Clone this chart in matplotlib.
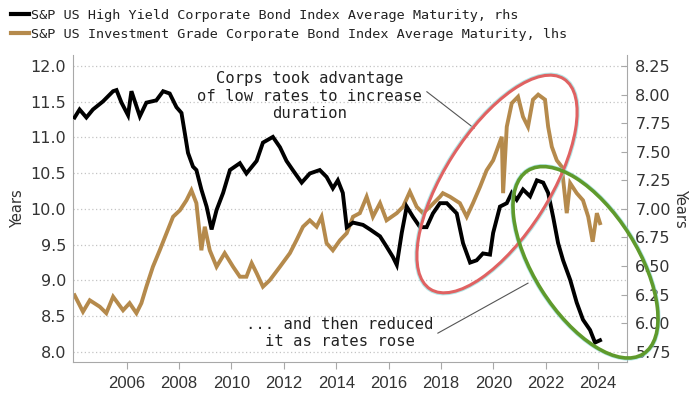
import matplotlib.pyplot as plt
from matplotlib.patches import Ellipse
from matplotlib.lines import Line2D

# S&P US High Yield index average maturity (rhs), decimal years
hy_years = [2004.01, 2004.20, 2004.46, 2004.71, 2005.09, 2005.48, 2005.61, 2005.80,
            2006.05, 2006.18, 2006.50, 2006.75, 2007.13, 2007.39, 2007.64, 2007.90,
            2008.09, 2008.22, 2008.34, 2008.53, 2008.66, 2008.85, 2009.05, 2009.24,
            2009.43, 2009.68, 2009.94, 2010.32, 2010.57, 2010.96, 2011.20, 2011.58,
            2011.85, 2012.10, 2012.34, 2012.68, 2012.99, 2013.37, 2013.63, 2013.87,
            2014.06, 2014.25, 2014.40, 2014.64, 2015.02, 2015.29, 2015.67, 2015.92,
            2016.16, 2016.31, 2016.50, 2016.69, 2016.93, 2017.20, 2017.45, 2017.69,
            2017.96, 2018.22, 2018.60, 2018.84, 2019.11, 2019.36, 2019.60, 2019.87,
            2019.99, 2020.25, 2020.51, 2020.70, 2020.89, 2021.13, 2021.40, 2021.66,
            2021.90, 2022.09, 2022.28, 2022.47, 2022.66, 2022.93, 2023.18, 2023.42,
            2023.69, 2023.88, 2024.07]
hy_values = [7.80, 7.87, 7.80, 7.87, 7.94, 8.03, 8.04, 7.93,
             7.82, 8.03, 7.81, 7.93, 7.95, 8.03, 8.01, 7.89,
             7.84, 7.66, 7.49, 7.37, 7.34, 7.17, 7.02, 6.82,
             6.99, 7.14, 7.34, 7.40, 7.31, 7.42, 7.58, 7.63,
             7.54, 7.42, 7.34, 7.23, 7.31, 7.34, 7.28, 7.18,
             7.25, 7.14, 6.84, 6.88, 6.86, 6.82, 6.76, 6.67,
             6.58, 6.51, 6.79, 7.02, 6.93, 6.84, 6.84, 6.96,
             7.05, 7.05, 6.96, 6.70, 6.53, 6.55, 6.61, 6.60,
             6.79, 7.02, 7.05, 7.14, 7.08, 7.17, 7.11, 7.25,
             7.23, 7.14, 6.93, 6.70, 6.55, 6.38, 6.18, 6.03,
             5.94, 5.83, 5.85]

# S&P US Investment Grade index average maturity (lhs)
ig_years = [2004.01, 2004.33, 2004.59, 2004.97, 2005.22, 2005.48, 2005.86, 2006.11,
            2006.37, 2006.56, 2006.75, 2007.00, 2007.26, 2007.52, 2007.77, 2008.03,
            2008.28, 2008.47, 2008.66, 2008.85, 2008.98, 2009.17, 2009.43, 2009.74,
            2010.06, 2010.32, 2010.57, 2010.77, 2010.96, 2011.20, 2011.46, 2011.85,
            2012.23, 2012.48, 2012.73, 2012.99, 2013.25, 2013.44, 2013.63, 2013.87,
            2014.14, 2014.40, 2014.64, 2014.90, 2015.16, 2015.40, 2015.67, 2015.92,
            2016.31, 2016.55, 2016.81, 2017.07, 2017.31, 2017.58, 2017.96, 2018.07,
            2018.34, 2018.72, 2018.98, 2019.22, 2019.49, 2019.74, 2019.99, 2020.18,
            2020.32, 2020.37, 2020.51, 2020.70, 2020.94, 2021.13, 2021.32, 2021.51,
            2021.71, 2021.97, 2022.09, 2022.23, 2022.42, 2022.61, 2022.80, 2022.93,
            2023.18, 2023.42, 2023.62, 2023.79, 2023.95, 2024.07]
ig_values = [8.79, 8.56, 8.72, 8.63, 8.54, 8.77, 8.58, 8.68,
             8.54, 8.68, 8.91, 9.19, 9.42, 9.66, 9.89, 9.98,
             10.12, 10.26, 10.08, 9.42, 9.75, 9.42, 9.19, 9.38,
             9.19, 9.05, 9.05, 9.24, 9.10, 8.91, 9.00, 9.19,
             9.38, 9.56, 9.75, 9.84, 9.75, 9.89, 9.52, 9.42,
             9.56, 9.66, 9.89, 9.94, 10.17, 9.89, 10.08, 9.84,
             9.94, 10.03, 10.24, 10.03, 9.94, 10.03, 10.17, 10.22,
             10.17, 10.08, 9.89, 10.08, 10.31, 10.54, 10.68, 10.87,
             11.01, 10.22, 11.15, 11.48, 11.57, 11.29, 11.15, 11.53,
             11.60, 11.53, 11.15, 10.87, 10.68, 10.59, 9.94, 10.36,
             10.22, 10.12, 9.89, 9.54, 9.94, 9.80]

x_ticks = list(range(2006, 2025, 2))
left_ticks = [8.0, 8.5, 9.0, 9.5, 10.0, 10.5, 11.0, 11.5, 12.0]
right_ticks = [5.75, 6.00, 6.25, 6.50, 6.75, 7.00, 7.25, 7.50, 7.75, 8.00, 8.25]

hy_label = "S&P US High Yield Corporate Bond Index Average Maturity, rhs"
ig_label = "S&P US Investment Grade Corporate Bond Index Average Maturity, lhs"

TAN = "#b58a4c"
SPINE = "#a8a8a8"
TXT = "#333333"
MONO = "DejaVu Sans Mono"

fig = plt.figure(figsize=(7, 3.94), dpi=100)
ax = fig.add_axes([0.1047, 0.082, 0.7910, 0.7784])
ax2 = ax.twinx()

ax.plot(ig_years, ig_values, color=TAN, lw=2.8, solid_joinstyle="miter")
ax2.plot(hy_years, hy_values, color="black", lw=2.8, solid_joinstyle="miter")

ax.set_xlim(2003.96, 2025.1)
ax.set_ylim(7.86, 12.155)
ax2.set_ylim(5.6625, 8.347)

ax.set_xticks(x_ticks)
ax.set_xticklabels([str(y) for y in x_ticks], fontfamily="Liberation Sans",
                   fontsize=12, color=TXT)
ax.set_yticks(left_ticks)
ax.set_yticklabels([f"{v:.1f}" for v in left_ticks], fontsize=11.5, color=TXT)
ax2.set_yticks(right_ticks)
ax2.set_yticklabels([f"{v:.2f}" for v in right_ticks], fontsize=11.5, color=TXT)

ax.tick_params(axis="x", length=5, color=SPINE, pad=5)
ax.tick_params(axis="y", length=0, pad=5)
ax2.tick_params(axis="y", direction="in", length=4, color=SPINE, pad=6)

ax.yaxis.grid(True, linestyle=(0, (1, 2)), color="#c4c4c4", lw=0.9)
ax.set_axisbelow(True)

for a in (ax, ax2):
    a.spines["top"].set_visible(False)
ax.spines["right"].set_visible(False)
ax2.spines["left"].set_visible(False)
ax2.spines["bottom"].set_visible(False)
ax.spines["left"].set_color(SPINE)
ax.spines["bottom"].set_color(SPINE)
ax2.spines["right"].set_color(SPINE)

ax.set_ylabel("Years", fontsize=10.5, color=TXT, labelpad=4)
ax2.set_ylabel("Years", fontsize=10.5, color=TXT, rotation=270, labelpad=12)

# legend at the top left of the figure
handles = [Line2D([], [], color="black", lw=3), Line2D([], [], color=TAN, lw=3)]
fig.legend(handles, [hy_label, ig_label], loc="upper left",
           bbox_to_anchor=(0.016, 0.977), bbox_transform=fig.transFigure,
           frameon=False, borderpad=0, borderaxespad=0, handlelength=1.3,
           handletextpad=0.2, labelspacing=0.45,
           prop={"family": MONO, "size": 9.7}, labelcolor="#222222")

# annotations
ax.text(2012.99, 11.58, "Corps took advantage\nof low rates to increase\nduration",
        ha="center", va="center", family=MONO, fontsize=11.2, color="#222222",
        linespacing=1.2)
ax.plot([2017.46, 2019.26], [11.64, 11.13], color="#555555", lw=0.8)
ax.text(2014.14, 8.26, "... and then reduced\nit as rates rose",
        ha="center", va="center", family=MONO, fontsize=11.2, color="#222222",
        linespacing=1.2)
ax.plot([2017.88, 2021.32], [8.26, 8.96], color="#555555", lw=0.8)


def ring(cx, cy, w, h, angle, color, lw):
    # ellipse given in image pixels (origin top-left)
    glow = Ellipse((cx / 100, (394 - cy) / 100), w / 100 + 0.03, h / 100 + 0.03,
                   angle=angle, transform=fig.dpi_scale_trans, fill=False,
                   edgecolor="#8fdcdc", lw=1.6, alpha=0.7, clip_on=False, zorder=9)
    main = Ellipse((cx / 100, (394 - cy) / 100), w / 100, h / 100,
                   angle=angle, transform=fig.dpi_scale_trans, fill=False,
                   edgecolor=color, lw=lw, clip_on=False, zorder=10)
    fig.add_artist(glow)
    fig.add_artist(main)


ring(497, 184, 249, 105, 57.6, "#e06262", 2.2)
ring(585.5, 262.3, 216.6, 103.8, -57.8, "#5f9a2c", 2.6)

fig.savefig("out.png", dpi=100)
